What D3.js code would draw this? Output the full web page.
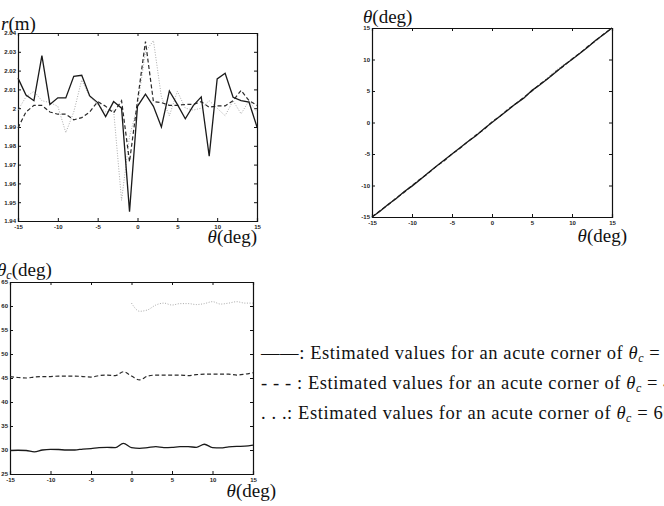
<!DOCTYPE html>
<html>
<head>
<meta charset="utf-8">
<script src="https://cdn.jsdelivr.net/npm/d3@7"></script>
<style>
  body { margin: 0; background: #fff; overflow: hidden; }
  svg { display: block; }
  .tick text { font-family: "Liberation Sans", Arial, sans-serif; font-size: 6px; font-weight: bold; fill: #222; }
  .lbl { font-family: "Liberation Serif", "DejaVu Serif", serif; fill: #111; }
</style>
</head>
<body>
<svg id="fig" width="664" height="506"></svg>
<script>
// x positions: true corner angle theta (deg)
const theta = [-15,-14,-13,-12,-11,-10,-9,-8,-7,-6,-5,-4,-3,-2,-1,0,1,2,3,4,5,6,7,8,9,10,11,12,13,14,15];
const thetaPos = [0,1,2,3,4,5,6,7,8,9,10,11,12,13,14,15];

// panel 1: estimated range r (m)
const rSolid = [2.016,2.007,2.004,2.028,2.002,2.0055,2.0055,2.017,2.0175,2.0065,2.003,1.9955,2.0035,2.000,1.945,2.001,2.0075,2.001,1.990,2.0092,2.002,1.9944,2.0014,2.006,1.9745,2.0156,2.0186,2.0058,2.004,2.0032,1.990];
const rDashed = [1.9895,1.998,2.0015,2.0015,1.998,1.9968,1.9968,1.9938,1.995,1.998,2.0035,2.001,1.9975,2.004,1.9715,2.004,2.0355,2.0035,2.003,2.0015,2.0015,2.002,2.002,2.0035,2.0005,2.0012,2.0012,2.004,2.0095,2.004,2.0015];
const rDotted = [1.999,2.006,2.009,2.004,2.003,2.001,1.987,1.998,2.015,2.006,2.002,1.998,1.999,1.951,1.985,2.001,2.030,2.036,2.006,1.996,2.009,2.000,1.999,2.000,2.004,2.000,1.996,2.004,1.997,2.004,1.998];
const rTicks = [1.94,1.95,1.96,1.97,1.98,1.99,2.00,2.01,2.02,2.03,2.04];

// panel 2: estimated theta (deg)
const tSolid = [-15,-14.1,-13.0,-12.1,-11.0,-10.1,-9.1,-8.0,-7.0,-6.0,-5.0,-4.0,-3.0,-2.1,-1.0,0.0,1.0,2.0,3.0,3.9,5.1,6.0,7.0,8.0,9.1,10.0,11.0,12.0,13.1,14.0,15.0];
const tDashed = [-15,-14.0,-13.1,-12.0,-11.1,-10.0,-9.0,-8.1,-7.0,-6.1,-5.0,-4.1,-3.0,-2.0,-1.1,0.1,1.0,2.1,3.0,4.0,5.0,6.1,7.0,8.1,9.0,10.1,11.0,12.1,13.0,14.1,15.0];
const tDotted = [-15,-14.0,-13.0,-12.0,-11.0,-10.0,-9.0,-8.0,-7.1,-6.0,-5.1,-4.0,-3.0,-2.0,-1.0,0.0,1.1,2.0,3.1,4.0,5.0,6.0,7.2,8.3,9.2,10.0,11.0,12.0,13.0,14.0,15.0];
const degTicks = [-15,-10,-5,0,5,10,15];

// panel 3: estimated corner angle theta_c (deg)
const cSolid = [29.9,29.95,29.9,29.6,30.0,30.15,30.1,30.0,30.0,30.2,30.3,30.5,30.55,30.5,31.4,30.5,30.35,30.5,30.7,30.5,30.55,30.7,30.7,30.55,31.2,30.5,30.45,30.65,30.75,30.8,31.0];
const cDashed = [45.3,45.1,45.0,45.2,45.3,45.3,45.4,45.4,45.4,45.3,45.2,45.5,45.6,45.5,46.3,45.4,44.6,45.4,45.6,45.6,45.6,45.6,45.5,45.7,45.8,45.8,45.8,45.8,45.6,45.8,46.1];
const cDotted = [60.6,58.9,59.2,60.2,60.6,60.2,60.5,60.5,60.3,60.5,60.9,60.4,60.6,60.9,60.6,60.6];
const cTicks = [25,30,35,40,45,50,55,60,65];

const legendLabels = [
  "\u2014\u2014: Estimated values for an acute corner of ",
  "- - - : Estimated values for an acute corner of ",
  ". . .: Estimated values for an acute corner of "
];
const legendCorners = ["30\u00b0", "45\u00b0", "60\u00b0"];

const svg = d3.select("#fig");

const styles = {
  solid:  { stroke: "#1a1a1a", width: 1.3, dash: null },
  dashed: { stroke: "#2a2a2a", width: 1.2, dash: "4,2.5" },
  dotted: { stroke: "#a0a0a0", width: 0.9, dash: "1,1.6" }
};

function fmt(d) { return String(+d.toFixed(2)); }

function panel(cfg) {
  const x = d3.scaleLinear().domain([-15, 15]).range([cfg.left, cfg.right]);
  const y = d3.scaleLinear().domain(cfg.yDomain).range([cfg.bottom, cfg.top]);
  const g = svg.append("g");

  g.append("g").attr("transform", `translate(0,${cfg.bottom})`)
    .call(d3.axisBottom(x).tickValues(degTicks).tickSize(-3).tickPadding(4).tickFormat(fmt));
  g.append("g").attr("transform", `translate(0,${cfg.top})`)
    .call(d3.axisTop(x).tickValues(degTicks).tickSize(-3).tickFormat(""));
  g.append("g").attr("transform", `translate(${cfg.left},0)`)
    .call(d3.axisLeft(y).tickValues(cfg.yTicks).tickSize(-3).tickPadding(2).tickFormat(fmt));
  g.append("g").attr("transform", `translate(${cfg.right},0)`)
    .call(d3.axisRight(y).tickValues(cfg.yTicks).tickSize(-3).tickFormat(""));
  g.selectAll(".domain").attr("stroke", "#111").attr("stroke-width", 1.2);
  g.selectAll(".tick line").attr("stroke", "#111");

  const line = d3.line().x(d => x(d[0])).y(d => y(d[1])).curve(cfg.curve || d3.curveLinear);
  cfg.series.forEach(s => {
    const st = styles[s.style];
    g.append("path")
      .datum(s.xs.map((t, i) => [t, s.ys[i]]))
      .attr("fill", "none")
      .attr("stroke", st.stroke)
      .attr("stroke-width", st.width)
      .attr("stroke-dasharray", st.dash)
      .attr("d", line);
  });
  return g;
}

panel({
  left: 18, right: 257, top: 33, bottom: 221, yDomain: [1.94, 2.04], yTicks: rTicks,
  series: [
    { xs: theta, ys: rDotted, style: "dotted" },
    { xs: theta, ys: rDashed, style: "dashed" },
    { xs: theta, ys: rSolid, style: "solid" }
  ]
});

panel({
  left: 372, right: 612, top: 28, bottom: 217, yDomain: [-15, 15], yTicks: degTicks,
  series: [
    { xs: theta, ys: tDotted, style: "dotted" },
    { xs: theta, ys: tDashed, style: "dashed" },
    { xs: theta, ys: tSolid, style: "solid" }
  ]
});

panel({
  left: 10, right: 253, top: 282, bottom: 474, yDomain: [25, 65], yTicks: cTicks,
  curve: d3.curveMonotoneX,
  series: [
    { xs: thetaPos, ys: cDotted, style: "dotted" },
    { xs: theta, ys: cDashed, style: "dashed" },
    { xs: theta, ys: cSolid, style: "solid" }
  ]
});

// axis labels
function thetaLabel(x, y, anchor, sub) {
  const t = svg.append("text").attr("class", "lbl").attr("x", x).attr("y", y)
    .attr("text-anchor", anchor).attr("font-size", 19);
  t.append("tspan").attr("font-style", "italic").text("\u03b8");
  if (sub) t.append("tspan").attr("font-style", "italic").attr("font-size", 12).attr("dy", 3).text("c");
  t.append("tspan").attr("dy", sub ? -3 : 0).text("(deg)");
}

const rl = svg.append("text").attr("class", "lbl").attr("x", 1).attr("y", 30).attr("font-size", 19);
rl.append("tspan").attr("font-style", "italic").text("r");
rl.append("tspan").text("(m)");

thetaLabel(257, 243, "end");
thetaLabel(363, 23, "start");
thetaLabel(627, 242, "end");
thetaLabel(-3, 276, "start", true);
thetaLabel(276, 497, "end");

// legend
const legendY = [354, 384, 414];
legendLabels.forEach((lab, i) => {
  const t = svg.append("text").attr("class", "lbl").attr("x", 261).attr("y", legendY[i] + 5)
    .attr("font-size", 18.5).attr("letter-spacing", 0.6);
  t.append("tspan").text(lab);
  t.append("tspan").attr("font-style", "italic").text("\u03b8");
  t.append("tspan").attr("font-style", "italic").attr("font-size", 12).attr("dy", 3).text("c");
  t.append("tspan").attr("dy", -3).text(" = " + legendCorners[i]);
});
</script>
</body>
</html>
